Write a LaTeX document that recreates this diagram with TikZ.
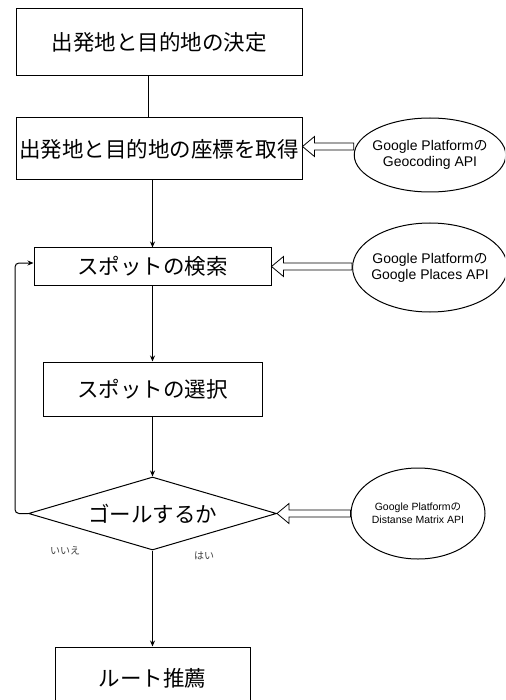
\documentclass[tikz,border=0pt]{standalone}
\usepackage{fontspec}
\setmainfont{Liberation Sans}
\newfontfamily\jp{Noto Sans CJK JP}
\usetikzlibrary{shapes.geometric,arrows.meta,calc}

% hollow block arrow, tip at #1, tail on the vertical through #2
\newcommand{\fatarrow}[2]{%
  \draw[fill=white,line width=0.8pt] (#1) -- ($(#1)+(12,-10)$) -- ($(#1)+(12,-3.5)$)
    -- ($(#2|-#1)+(0,-3.5)$) -- ($(#2|-#1)+(0,3.5)$) -- ($(#1)+(12,3.5)$)
    -- ($(#1)+(12,10)$) -- cycle;}

\begin{document}
\begin{tikzpicture}
			[x=1pt,y=-1pt,line width=1pt,
			procbox/.style={draw,inner sep=0pt,font=\jp\fontsize{21.5}{24}\selectfont},
			api/.style={draw,ellipse,inner xsep=-4pt,inner ysep=0pt,align=center,font=\fontsize{14}{16}\selectfont},
			answer/.style={font=\jp\fontsize{10}{12}\selectfont,text=black!75},
			flow/.style={-{Stealth[length=6pt,width=5pt]}}]
			\useasboundingbox (0,0) rectangle (505,700);
			\clip (0,0) rectangle (505,700);
			\node[procbox,minimum width=286pt,minimum height=67pt] (decide) at (159,42.5) {出発地と目的地の決定};
			\node[procbox,minimum width=286pt,minimum height=62pt] (coords) at (159,149) {出発地と目的地の座標を取得};
			\node[procbox,minimum width=237pt,minimum height=37pt] (search) at (152.5,266.5) {スポットの検索};
			\node[procbox,minimum width=219pt,minimum height=54pt] (select) at (152.5,389) {スポットの選択};
			\node[procbox,diamond,aspect=3.4,minimum width=248pt,minimum height=73pt] (goal) at (152.5,513.5) {ゴールするか};
			\node[procbox,minimum width=195pt,minimum height=62pt] (route) at (152.5,678) {ルート推薦};
			\node[api,minimum width=148pt,minimum height=74pt] (geo) at (430,155) {Google Platform{\jp の}\\Geocoding API};
			\node[api,minimum width=148pt,minimum height=89pt] (places) at (430,267.5) {Google Platform{\jp の}\\Google Places API};
			\node[api,minimum width=134pt,minimum height=91pt,font=\fontsize{10.5}{13}\selectfont] (distmatrix) at (418,513.5) {Google Platform{\jp の}\\Distanse Matrix API};
			\node[answer] (no) at (65,551) {いいえ};
			\node[answer] (yes) at (204,556) {はい};
			\draw ([xshift=-11pt]decide.south) -- ([xshift=-11pt]coords.north);
			\draw[flow] (search.north |- coords.south) -- (search.north);
			\draw[flow] (search.south) -- (select.north);
			\draw[flow] (select.south) -- (goal.north);
			\draw[flow] (goal.south) -- (route.north);
			\draw[flow,rounded corners=4pt] (goal.west) -- ++(-13,0) |- ([yshift=3.5pt]search.west);
			\coordinate (geotip) at ([yshift=2.5pt]coords.east);
			\fatarrow{geotip}{geo.west}
			\fatarrow{search.east}{places.west}
			\fatarrow{goal.east}{distmatrix.west}
		\end{tikzpicture}
\end{document}
